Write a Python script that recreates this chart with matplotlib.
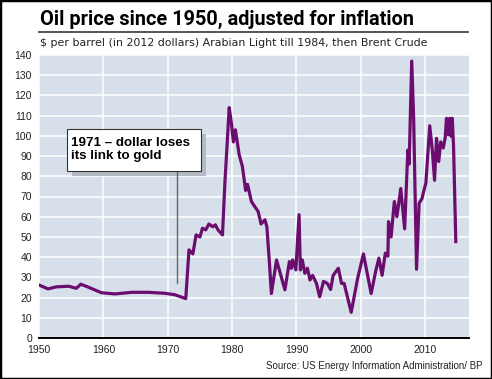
import numpy as np
import matplotlib
matplotlib.use("Agg")
import matplotlib.pyplot as plt
import matplotlib.patches as patches

# oil price, $ per barrel in 2012 dollars
years = [1950, 1951.4, 1952.7, 1954.6, 1955.8, 1956.5, 1957.7, 1959.7, 1961.8, 1964.4,
         1967.0, 1969.6, 1971.1, 1972.8, 1973.3, 1973.9, 1974.4, 1975.0, 1975.4, 1975.9,
         1976.4, 1977.0, 1977.4, 1977.8, 1978.5, 1978.9, 1979.55, 1979.9, 1980.2, 1980.5,
         1980.8, 1981.1, 1981.6, 1982.1, 1982.4, 1983.0, 1984.05, 1984.5, 1985.1, 1985.4,
         1985.8, 1986.1, 1986.9, 1988.2, 1988.9, 1989.2, 1989.4, 1989.9, 1990.4, 1990.6,
         1990.9, 1991.3, 1991.7, 1992.1, 1992.5, 1993.1, 1993.6, 1994.2, 1994.8, 1995.3,
         1995.7, 1996.5, 1997.0, 1997.4, 1998.5, 1999.5, 2000.4, 2001.6, 2002.3, 2002.8,
         2003.3, 2003.8, 2004.2, 2004.3, 2004.7, 2005.2, 2005.6, 2006.2, 2006.8, 2007.3,
         2007.5, 2007.9, 2008.2, 2008.65, 2009.05, 2009.5, 2009.8, 2010.1, 2010.7, 2011.1,
         2011.45, 2011.75, 2012.1, 2012.4, 2012.8, 2013.1, 2013.3, 2013.6, 2013.8, 2014.05,
         2014.2, 2014.4, 2014.75]
price = [26.2, 24.3, 25.3, 25.6, 24.6, 26.6, 25.1, 22.4, 21.8, 22.6,
         22.6, 22.1, 21.4, 19.5, 43.6, 41.6, 51, 50, 54.3, 53.5,
         56.4, 55, 56, 53.5, 51, 78, 114, 106, 97, 103,
         97, 90.6, 84.8, 73, 76, 67.5, 62.5, 56.4, 58.5, 55,
         37, 22, 38.6, 23.8, 37.8, 34.5, 38.6, 33.7, 61, 33.7,
         38.6, 32, 34.5, 28.7, 31, 27, 20.4, 28, 27, 24,
         31, 34.5, 27, 27, 12.7, 29.5, 41.6, 22, 33, 39.5,
         31, 42, 40.5, 57.6, 50, 67.5, 60, 74, 54, 93,
         86, 137, 109, 34, 66.7, 69, 73, 76.6, 105, 93,
         78, 98.8, 87.3, 97, 94, 99, 108.7, 100.5, 108.7, 99.7,
         108.7, 94.7, 47.7]

xticks = [1950, 1960, 1970, 1980, 1990, 2000, 2010]
yticks = list(range(0, 141, 10))

title = "Oil price since 1950, adjusted for inflation"
subtitle = "\\$ per barrel (in 2012 dollars) Arabian Light till 1984, then Brent Crude"
source = "Source: US Energy Information Administration/ BP"
note = "1971 \u2013 dollar loses\nits link to gold"
note_year, note_value = 1971.45, 27

body = ['Liberation Sans', 'DejaVu Sans']
head = ['Roboto', 'DejaVu Sans']

W, H = 492, 379
fig = plt.figure(figsize=(W / 100, H / 100), dpi=100)
fig.patch.set_facecolor('white')

ax = fig.add_axes([39 / W, 1 - 338 / H, (469 - 39) / W, (338 - 55) / H])
ax.set_facecolor('#d7dfea')
ax.plot(years, price, color='#6b0d6e', lw=2.3, solid_joinstyle='round', zorder=4)

ax.set_xlim(1950, 2016.8)
ax.set_ylim(0, 140)
ax.set_xticks(xticks)
ax.set_yticks(yticks)
ax.grid(True, color='white', lw=1.1, zorder=0)
ax.set_axisbelow(True)
for s in ['top', 'right', 'left']:
    ax.spines[s].set_visible(False)
ax.spines['bottom'].set_linewidth(1.4)
ax.tick_params(length=0, labelsize=7.5, colors='#222222', pad=5)
for lab in ax.get_xticklabels() + ax.get_yticklabels():
    lab.set_family(body)

# annotation box with a drop shadow
bx0, by0, bw, bh = 1954.35, 82.7, 20.8, 20.8
ax.add_patch(patches.Rectangle((bx0 + 0.8, by0 - 2.6), bw, bh, facecolor='#b4bac4',
                               edgecolor='none', zorder=5))
ax.add_patch(patches.Rectangle((bx0, by0), bw, bh, facecolor='white',
                               edgecolor='#333333', lw=0.8, zorder=6))
ax.plot([note_year, note_year], [note_value, by0], color='#666666', lw=1.0, zorder=5)
ax.text(bx0 + 0.65, by0 + bh / 2, note, fontsize=9.6, fontweight='bold', family=body,
        va='center', ha='left', linespacing=1.15, zorder=7)

fig.text(40 / W, 1 - 25 / H, title, fontsize=14.3, fontweight='bold', family=head,
         ha='left', va='baseline')
fig.add_artist(plt.Line2D([39 / W, 468 / W], [1 - 31.5 / H, 1 - 31.5 / H],
                          color='#555555', lw=1.4))
fig.text(40 / W, 1 - 46 / H, subtitle, fontsize=7.9, family=['DejaVu Sans'],
         color='#222222', ha='left', va='baseline')
fig.text(482 / W, 1 - 369 / H, source, fontsize=7.0, family=body, color='#222222',
         ha='right', va='baseline')

fig.add_artist(patches.Rectangle((0, 0), 1, 1, transform=fig.transFigure, fill=False,
                                 edgecolor='black', lw=2.5))

fig.savefig('out.png', dpi=100)
